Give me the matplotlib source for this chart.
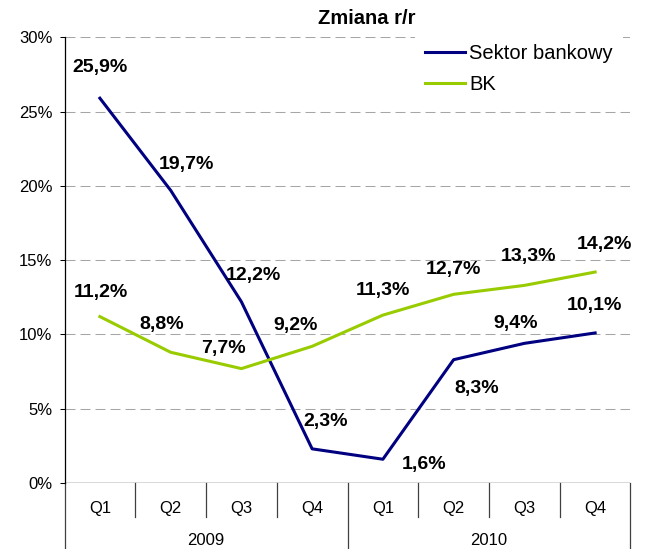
import matplotlib
matplotlib.use("Agg")
import matplotlib.pyplot as plt
from matplotlib.ticker import FuncFormatter

plt.rcParams['font.family'] = ['Liberation Sans', 'DejaVu Sans']

# data
quarters = ["Q1", "Q2", "Q3", "Q4", "Q1", "Q2", "Q3", "Q4"]
years = ["2009", "2010"]
sektor = [25.9, 19.7, 12.2, 2.3, 1.6, 8.3, 9.4, 10.1]
bk = [11.2, 8.8, 7.7, 9.2, 11.3, 12.7, 13.3, 14.2]
series_names = ["Sektor bankowy", "BK"]

# label offsets (pixels, relative to each point)
sektor_offsets = [(0, 31), (16, 26), (12, 26), (13, 27), (41, -5), (23, -29), (-9, 20), (-1, 27)]
bk_offsets = [(1, 24), (-9, 28), (-18, 20), (-17, 21), (0, 25), (0, 25), (4, 29), (9, 28)]

navy = "#000080"
green = "#99CC00"
grid_color = "#A6A6A6"

fig = plt.figure(figsize=(6.51, 5.49), dpi=100)
ax = fig.add_axes([0.0991, 0.1202, 0.8694, 0.8119])

x = [i + 0.5 for i in range(len(quarters))]

for y in [5, 10, 15, 20, 25, 30]:
    ax.axhline(y, color=grid_color, lw=0.75, dashes=(9.6, 4.8), zorder=1)
ax.axhline(0, color="#404040", lw=1.0, zorder=2)

ax.plot(x, sektor, color=navy, lw=2.2, label=series_names[0], zorder=3)
ax.plot(x, bk, color=green, lw=2.2, label=series_names[1], zorder=3)

def fmt(v):
    return "{:.1f}%".format(v).replace(".", ",")

for vals, offs in [(sektor, sektor_offsets), (bk, bk_offsets)]:
    for xi, v, (dx, dy) in zip(x, vals, offs):
        ax.annotate(fmt(v), (xi, v), xytext=(dx, dy), textcoords="offset pixels",
                    ha="center", va="center", fontsize=14, fontweight="bold", zorder=4)

ax.set_xlim(0, len(quarters))
ax.set_ylim(0, 30)
ax.set_yticks([0, 5, 10, 15, 20, 25, 30])
ax.yaxis.set_major_formatter(FuncFormatter(lambda v, p: "{:d}%".format(int(v))))
ax.tick_params(axis="y", length=3.6, width=0.75, pad=5, labelsize=12)

ax.set_xticks(x, labels=quarters)
ax.tick_params(axis="x", length=0, pad=13, labelsize=12)

for s in ["top", "right", "bottom"]:
    ax.spines[s].set_visible(False)
ax.spines["left"].set_linewidth(0.9)

# category box below the axis
trans = ax.get_xaxis_transform()
per_year = len(quarters) // len(years)
for i in range(len(quarters) + 1):
    bottom = -0.148 if i % per_year == 0 else -0.0763
    ax.plot([i, i], [0, bottom], color="#404040", lw=0.9, transform=trans, clip_on=False)
for j, yr in enumerate(years):
    ax.text(j * per_year + per_year / 2, -0.128, yr, transform=trans,
            ha="center", va="center", fontsize=12)

leg = ax.legend(loc="upper left", bbox_to_anchor=(0.6375, 0.938), bbox_transform=fig.transFigure,
                frameon=True, fontsize=14.5, handlelength=2.0, handletextpad=0.2,
                labelspacing=0.6, borderpad=0.5, borderaxespad=0)
leg.get_frame().set_facecolor("white")
leg.get_frame().set_edgecolor("none")
leg.get_frame().set_alpha(1)
leg.set_zorder(5)

fig.text(0.563, 0.967, "Zmiana r/r", ha="center", va="center", fontsize=14.5, fontweight="bold")

fig.savefig("out.png", dpi=100)
